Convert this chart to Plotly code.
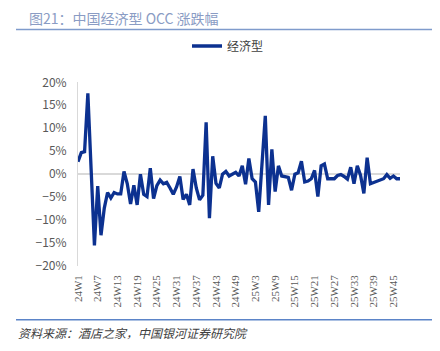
import plotly.graph_objects as go

weeks = [f"24W{i}" for i in range(1, 53)] + [f"25W{i}" for i in range(1, 48)]
values = [
    2.7, 4.7, 4.9, 17.6, 1.0, -15.5, -2.6, -13.3, -7.4, -4.0,
    -5.2, -4.0, -4.3, -4.3, 0.6, -2.1, -6.5, -2.4, -6.7, 0.0,
    -4.4, -4.9, 1.3, -5.3, -2.5, -1.3, -2.1, -1.8, -3.0, -4.4,
    -2.8, -0.5, -5.5, -4.4, -6.7, 1.1, -3.0, -5.6, -4.6, 11.3,
    -9.6, 3.9, -2.0, -3.0, 0.0, 0.6, -0.4, 0.1, 0.4, -0.4,
    1.8, -2.2, 3.4, -1.0, -1.7, -8.2, 2.2, 12.7, -6.7, 5.4,
    -3.8, 1.8, -0.4, -0.5, -0.7, -3.5, 0.0, 0.3, 2.8, -1.7,
    -1.5, -1.0, 0.8, -4.9, 1.8, 2.2, -1.0, -1.0, -1.0, -0.3,
    -0.1, -0.5, -1.1, 1.5, -2.1, 1.8, -0.3, -4.2, 3.6, -2.1,
    -1.8, -1.6, -1.2, -1.0, -0.1, -0.9, -0.4, -1.0, -1.0,
]
tick_labels = weeks[::6]
series_name = "经济型"
title_text = "图21：中国经济型 OCC 涨跌幅"
source_text = "资料来源：酒店之家，中国银河证券研究院"

W, H = 440, 351
L, R, T, B = 78, 40, 78, 85
pw, ph = W - L - R, H - T - B

def px(x):
    return (x - L) / pw

def py(y):
    return (H - B - y) / ph

fig = go.Figure()
fig.add_trace(go.Scatter(
    x=weeks, y=values, mode="lines", name=series_name,
    line=dict(color="#0c3190", width=3.3),
))

fig.update_layout(
    width=W, height=H,
    margin=dict(l=L, r=R, t=T, b=B),
    paper_bgcolor="white", plot_bgcolor="white",
    font=dict(family="Noto Sans CJK SC", color="#595959", size=12),
    showlegend=True,
    legend=dict(
        orientation="h", xref="container", yref="container",
        x=187 / W, y=1 - 46 / H, xanchor="left", yanchor="middle",
        font=dict(size=12, color="#404040"), bgcolor="rgba(0,0,0,0)",
    ),
    xaxis=dict(
        type="category", range=[0, len(weeks) - 1],
        tickmode="array", tickvals=tick_labels, ticktext=tick_labels,
        tickangle=-90, showgrid=False, zeroline=False, showline=False,
        ticks="", tickfont=dict(size=11, color="#595959", family="Liberation Serif"),
        ticklabelstandoff=6,
    ),
    yaxis=dict(
        range=[-20, 20], dtick=5, ticksuffix="%",
        showgrid=False, zeroline=True, zerolinecolor="#d9d9d9", zerolinewidth=1.5,
        showline=True, linecolor="#d9d9d9", linewidth=1,
        ticks="", ticklabelstandoff=8,
        tickfont=dict(size=12, color="#595959"),
    ),
    shapes=[
        dict(type="line", xref="paper", yref="paper",
             x0=px(16), x1=px(432), y0=py(24), y1=py(24),
             line=dict(color="#7f9bcc", width=1.5)),
        dict(type="line", xref="paper", yref="paper",
             x0=px(16), x1=px(432), y0=py(321), y1=py(321),
             line=dict(color="#5b84c8", width=1.5)),
    ],
    annotations=[
        dict(text=title_text, xref="paper", yref="paper",
             x=px(27), y=py(12), xanchor="left", yanchor="middle",
             showarrow=False, font=dict(size=14, color="#8a9cc4")),
        dict(text=f"<i>{source_text}</i>", xref="paper", yref="paper",
             x=px(16), y=py(334), xanchor="left", yanchor="middle",
             showarrow=False, font=dict(size=12, color="#404040")),
    ],
)

fig.write_html("out.html")
